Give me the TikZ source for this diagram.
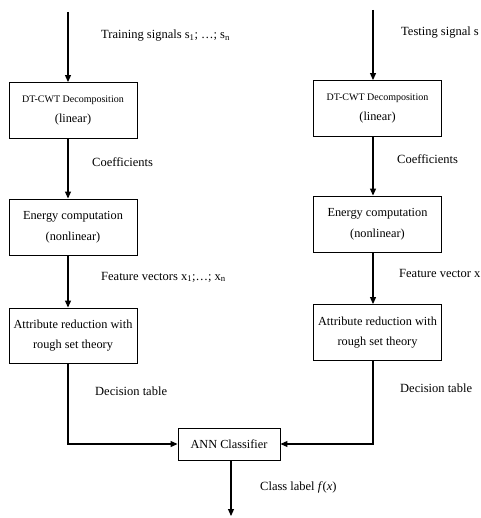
\documentclass[tikz,border=0pt]{standalone}
\usepackage{fontspec}
\setmainfont{Liberation Serif}
\usetikzlibrary{arrows.meta,positioning}

\tikzset{
  blk/.style={draw, line width=0.9pt, minimum width=128pt, minimum height=56pt,
    align=center, inner sep=0pt, font=\fontsize{12.3}{20.5}\selectfont},
  lbl/.style={anchor=west, inner sep=0pt, font=\fontsize{12.5}{14}\selectfont},
  flow/.style={line width=1.1pt, -{Triangle[length=7pt,width=6pt]}},
}

\begin{document}
\begin{tikzpicture}[x=1pt, y=-1pt]
\useasboundingbox (0,0) rectangle (480,518);

% training branch
\coordinate (inl) at (68,12);
\node[blk] (dtl) at (73,110.5) {{\fontsize{10}{12}\selectfont DT-CWT Decomposition}\\(linear)};
\node[blk] (enl) at (73,227) {Energy computation\\(nonlinear)};
\node[blk, minimum height=55pt] (atl) at (73,335.5) {Attribute reduction with\\rough set theory};

% testing branch
\coordinate (inr) at (373,10);
\node[blk] (dtr) at (377.5,108.5) {{\fontsize{10}{12}\selectfont DT-CWT Decomposition}\\(linear)};
\node[blk] (enr) at (377.5,224) {Energy computation\\(nonlinear)};
\node[blk] (atr) at (377.5,332.5) {Attribute reduction with\\rough set theory};

% classifier
\node[blk, minimum width=102pt, minimum height=32pt] (ann) at (229,444) {ANN Classifier};
\coordinate (out) at (231,516);

% connectors
\draw[flow] (inl) -- (inl |- dtl.north);
\draw[flow] (inl |- dtl.south) -- (inl |- enl.north);
\draw[flow] (inl |- enl.south) -- (inl |- atl.north);
\draw[flow] (inl |- atl.south) |- (ann.west);
\draw[flow] (inr) -- (inr |- dtr.north);
\draw[flow] (inr |- dtr.south) -- (inr |- enr.north);
\draw[flow] (inr |- enr.south) -- (inr |- atr.north);
\draw[flow] (inr |- atr.south) |- (ann.east);
\draw[flow] (out |- ann.south) -- (out);

% labels
\node[lbl] (trn) at (101,36) {Training signals s\textsubscript{1}; \dots; s\textsubscript{n}};
\node[lbl] (cfl) at (92,162) {Coefficients};
\node[lbl] (fvl) at (101,277) {Feature vectors x\textsubscript{1};\dots; x\textsubscript{n}};
\node[lbl] (dcl) at (95,391) {Decision table};
\node[lbl] (tst) at (401,33) {Testing signal s};
\node[lbl] (cfr) at (397,159) {Coefficients};
\node[lbl] (fvr) at (399,273) {Feature vector x};
\node[lbl] (dcr) at (400,388) {Decision table};
\node[lbl] (cls) at (260,487) {Class label \textit{f}(\textit{x})};
\end{tikzpicture}
\end{document}
